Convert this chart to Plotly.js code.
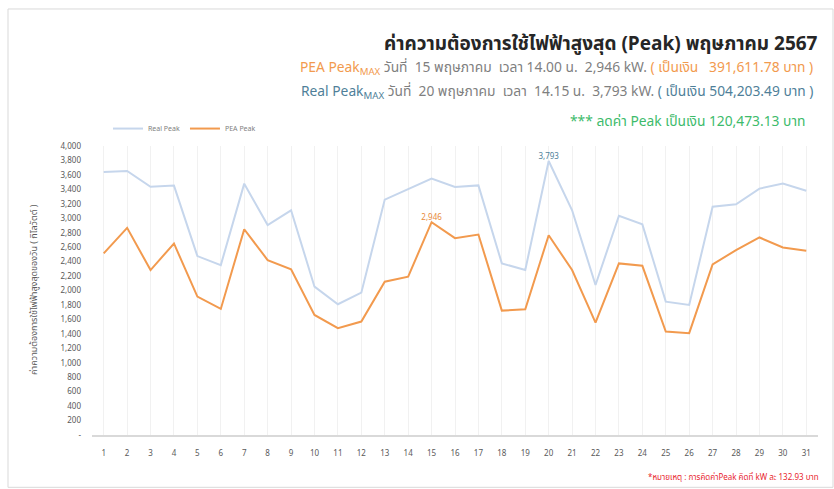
<!DOCTYPE html>
<html>
<head>
<meta charset="utf-8">
<script src="https://cdn.plot.ly/plotly-3.0.1.min.js"></script>
<style>html,body{margin:0;padding:0;background:#fff;}#chart{width:834px;height:489px;}</style>
</head>
<body>
<div id="chart"></div>
<script>
var days = [];
for (var d = 1; d <= 31; d++) days.push(d);
var realPeak = [3639, 3655, 3435, 3452, 2476, 2352, 3479, 2905, 3110, 2053, 1810, 1970, 3258, 3400, 3548, 3432, 3455, 2375, 2283, 3793, 3110, 2076, 3035, 2915, 1846, 1800, 3160, 3193, 3410, 3479, 3380];
var peaPeak = [2513, 2867, 2283, 2651, 1915, 1745, 2848, 2421, 2292, 1662, 1478, 1570, 2122, 2191, 2946, 2725, 2775, 1722, 1740, 2765, 2283, 1556, 2375, 2342, 1432, 1410, 2361, 2559, 2734, 2596, 2549];
var yTickVals = [0,200,400,600,800,1000,1200,1400,1600,1800,2000,2200,2400,2600,2800,3000,3200,3400,3600,3800,4000];
var yTickText = ['-','200','400','600','800','1,000','1,200','1,400','1,600','1,800','2,000','2,200','2,400','2,600','2,800','3,000','3,200','3,400','3,600','3,800','4,000'];

function fmt(v){ return v.toLocaleString('en-US'); }
function maxIdx(arr){ return arr.indexOf(Math.max.apply(null, arr)); }

var L = 92, R = 818, T = 145.5, B = 435.5, W = 834, H = 489;
function px(x){ return (x - L) / (R - L); }
function py(y){ return (B - y) / (B - T); }

var cOrange = '#f29a4e', cBlue = '#c6d6ec', cTeal = '#4f7f99', cGray = '#7f7f7f';
var thai = '"Noto Sans Thai", "Noto Sans", "DejaVu Sans", sans-serif';

var iR = maxIdx(realPeak), iP = maxIdx(peaPeak);
var traces = [
  {x: days, y: realPeak, name: 'Real Peak', type: 'scatter', mode: 'lines',
   line: {color: cBlue, width: 2}, hoverinfo: 'x+y'},
  {x: days, y: peaPeak, name: 'PEA Peak', type: 'scatter', mode: 'lines',
   line: {color: cOrange, width: 2}, hoverinfo: 'x+y'},
  {x: [days[iR]], y: [realPeak[iR]], type: 'scatter', mode: 'text', showlegend: false,
   text: [fmt(realPeak[iR])], textposition: 'top center', cliponaxis: false,
   textfont: {size: 8, color: cTeal, family: thai}},
  {x: [days[iP]], y: [peaPeak[iP]], type: 'scatter', mode: 'text', showlegend: false,
   text: [fmt(peaPeak[iP])], textposition: 'top center', cliponaxis: false,
   textfont: {size: 8, color: '#e88a3c', family: thai}}
];

var layout = {
  width: W, height: H,
  margin: {l: L, r: W - R, t: T, b: H - B, pad: 0},
  paper_bgcolor: '#ffffff', plot_bgcolor: '#ffffff',
  font: {family: thai, color: '#595959'},
  showlegend: true,
  legend: {orientation: 'h', x: px(108), y: py(128), xanchor: 'left', yanchor: 'middle',
           font: {size: 7, color: '#7f7f7f'}, bgcolor: 'rgba(0,0,0,0)', itemwidth: 30, tracegroupgap: 0},
  xaxis: {type: 'linear', range: [0.5, 31.5], tickmode: 'array', tickvals: days,
          ticktext: days.map(String), showgrid: true, gridcolor: '#f1f1f1', gridwidth: 1,
          zeroline: false, showline: true, linecolor: '#d9d9d9', linewidth: 1.5,
          ticks: '', tickfont: {size: 8, color: '#595959'}, ticklabelstandoff: 10, fixedrange: true},
  yaxis: {range: [0, 4000], tickmode: 'array', tickvals: yTickVals, ticktext: yTickText,
          showgrid: false, zeroline: false, showline: false, ticks: '',
          tickfont: {size: 8, color: '#595959'}, ticklabelstandoff: 10, fixedrange: true},
  shapes: [
    {type: 'rect', xref: 'paper', yref: 'paper', x0: px(8), x1: px(833), y0: py(488), y1: py(8),
     line: {color: '#d9d9d9', width: 1}, fillcolor: 'rgba(0,0,0,0)', layer: 'below'}
  ],
  annotations: [
    {xref: 'paper', yref: 'paper', x: px(820), y: py(44), xanchor: 'right', yanchor: 'middle', showarrow: false,
     text: '<b>ค่าความต้องการใช้ไฟฟ้าสูงสุด (Peak) พฤษภาคม 2567</b>', font: {size: 19, color: '#262626', family: thai}},
    {xref: 'paper', yref: 'paper', x: px(815), y: py(67), xanchor: 'right', yanchor: 'middle', showarrow: false,
     text: '<span style="color:' + cOrange + '">PEA Peak<sub>MAX</sub></span> วันที่  15 พฤษภาคม  เวลา 14.00 น.  2,946 kW. <span style="color:' + cOrange + '">( เป็นเงิน   391,611.78 บาท )</span>',
     font: {size: 13.8, color: cGray, family: thai}},
    {xref: 'paper', yref: 'paper', x: px(815), y: py(91), xanchor: 'right', yanchor: 'middle', showarrow: false,
     text: '<span style="color:' + cTeal + '">Real Peak<sub>MAX</sub></span> วันที่  20 พฤษภาคม  เวลา  14.15 น.  3,793 kW. <span style="color:' + cTeal + '">( เป็นเงิน 504,203.49 บาท )</span>',
     font: {size: 13.8, color: cGray, family: thai}},
    {xref: 'paper', yref: 'paper', x: px(807), y: py(121), xanchor: 'right', yanchor: 'middle', showarrow: false,
     text: '*** ลดค่า Peak เป็นเงิน 120,473.13 บาท', font: {size: 13.8, color: '#3dbb6b', family: thai}},
    {xref: 'paper', yref: 'paper', x: px(821), y: py(478), xanchor: 'right', yanchor: 'middle', showarrow: false,
     text: '*หมายเหตุ : การคิดค่าPeak คิดที่ kW ละ 132.93 บาท', font: {size: 8, color: '#e8262e', family: thai}},
    {xref: 'paper', yref: 'paper', x: px(34), y: py(290), xanchor: 'center', yanchor: 'middle', showarrow: false,
     textangle: -90, text: 'ค่าความต้องการใช้ไฟฟ้าสูงสุดของวัน ( กิโลวัตต์ )', font: {size: 9, color: '#595959', family: thai}}
  ]
};

Plotly.newPlot('chart', traces, layout, {displayModeBar: false, staticPlot: true});
</script>
</body>
</html>
